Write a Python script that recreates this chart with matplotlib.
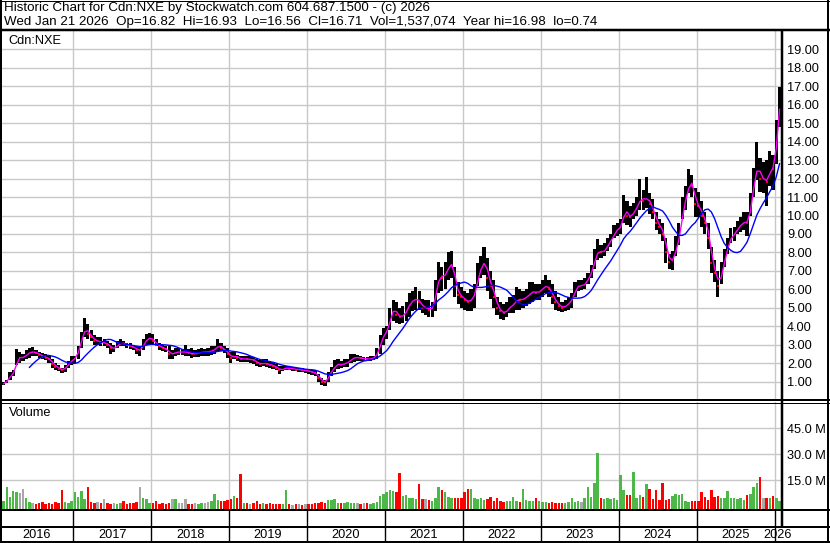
import numpy as np
import pandas as pd
import matplotlib
matplotlib.use("Agg")
import matplotlib.pyplot as plt
from matplotlib.lines import Line2D
from matplotlib.ticker import FormatStrFormatter, FuncFormatter

plt.rcParams["font.family"] = ["Liberation Sans", "DejaVu Sans"]

# =====================================
# Data: half-month periods, Jan-2016 (2nd half) .. Jan-2026 (2nd half)
# =====================================
highs = [
    # 2016
    0.85, 1.0, 1.1, 1.5, 1.6, 2.75, 2.6, 2.5, 2.7, 2.8, 2.85, 2.7, 2.6, 2.55, 2.5, 2.4, 2.2, 2.0, 1.9, 1.75, 1.9, 2.1, 2.4,
    # 2017
    2.4, 2.9, 3.7, 4.45, 4.1, 3.8, 3.5, 3.4, 3.4, 3.3, 3.2, 3.1, 3.0, 3.2, 3.3, 3.2, 3.1, 3.1, 3.0, 2.95, 2.9, 3.3, 3.6, 3.65,
    # 2018
    3.6, 3.3, 3.1, 3.0, 2.95, 2.9, 2.7, 2.8, 2.8, 2.75, 3.0, 2.75, 2.8, 2.7, 2.75, 2.8, 2.75, 2.8, 2.9, 2.95, 3.3, 3.1, 2.95, 2.8,
    # 2019
    2.6, 2.6, 2.45, 2.4, 2.4, 2.4, 2.4, 2.35, 2.2, 2.15, 2.2, 2.2, 2.1, 2.05, 1.95, 1.85, 1.85, 1.85, 1.85, 1.8, 1.8, 1.75, 1.75, 1.7,
    # 2020
    1.7, 1.65, 1.6, 1.4, 1.2, 1.1, 1.5, 1.8, 2.15, 2.2, 2.1, 2.2, 2.2, 2.5, 2.5, 2.45, 2.4, 2.35, 2.35, 2.4, 2.4, 2.8, 3.5, 3.9,
    # 2021
    4.0, 5.0, 5.4, 5.3, 5.0, 5.1, 5.3, 5.8, 5.9, 6.1, 5.9, 5.5, 5.4, 5.4, 5.3, 6.5, 7.5, 7.2, 7.5, 8.0, 8.1, 7.2, 6.4, 6.1,
    # 2022
    5.9, 5.8, 6.0, 6.3, 7.4, 7.8, 8.3, 7.7, 7.0, 6.5, 5.6, 5.3, 5.2, 5.3, 5.6, 5.7, 6.1, 6.0, 5.9, 6.0, 6.4, 6.4, 6.3, 6.3,
    # 2023
    6.5, 6.8, 6.5, 6.3, 5.9, 5.6, 5.3, 5.4, 5.6, 5.8, 6.4, 6.5, 6.5, 6.6, 6.9, 7.3, 8.2, 8.7, 8.4, 8.5, 8.8, 9.0, 9.5, 9.6,
    # 2024
    9.8, 11.1, 10.8, 10.5, 10.7, 11.0, 12.0, 11.4, 12.1, 11.2, 10.9, 10.2, 9.8, 9.6, 8.8, 7.9, 8.1, 8.9, 9.6, 11.0, 11.6, 12.5, 12.2, 11.5,
    # 2025
    11.3, 10.8, 10.2, 9.6, 8.3, 7.6, 7.0, 7.5, 8.2, 8.8, 9.3, 9.4, 9.7, 9.9, 10.2, 10.2, 11.2, 12.6, 14.0, 13.1, 12.9, 13.0, 13.5, 13.3,
    # 2026
    15.2, 16.98,
]
lows = [
    0.72, 0.8, 0.9, 1.1, 1.3, 1.9, 2.0, 2.1, 2.2, 2.3, 2.4, 2.4, 2.3, 2.2, 2.15, 2.0, 1.75, 1.65, 1.55, 1.45, 1.5, 1.75, 1.9,
    2.0, 2.2, 2.8, 3.4, 3.3, 3.2, 3.0, 3.0, 2.9, 2.9, 2.8, 2.5, 2.6, 2.8, 2.9, 2.9, 2.8, 2.75, 2.7, 2.5, 2.4, 2.7, 3.0, 3.0,
    3.0, 2.9, 2.7, 2.65, 2.6, 2.2, 2.2, 2.4, 2.45, 2.45, 2.4, 2.4, 2.3, 2.35, 2.35, 2.4, 2.4, 2.4, 2.45, 2.5, 2.6, 2.65, 2.55, 2.3,
    2.0, 2.2, 2.1, 2.05, 2.05, 2.05, 2.0, 1.95, 1.85, 1.8, 1.85, 1.8, 1.75, 1.7, 1.6, 1.4, 1.55, 1.6, 1.6, 1.55, 1.55, 1.5, 1.5, 1.45,
    1.4, 1.35, 1.3, 1.0, 0.8, 0.74, 1.0, 1.3, 1.5, 1.7, 1.75, 1.8, 1.8, 2.0, 2.05, 2.1, 2.1, 2.1, 2.1, 2.1, 2.15, 2.2, 2.5, 3.0,
    3.3, 3.8, 4.3, 4.2, 4.1, 4.2, 4.3, 4.5, 4.8, 4.9, 4.9, 4.7, 4.6, 4.5, 4.5, 4.8, 5.8, 5.9, 6.0, 6.5, 6.6, 5.6, 5.2, 5.0,
    4.9, 4.8, 4.8, 5.0, 6.2, 6.6, 6.8, 5.9, 5.5, 5.0, 4.6, 4.4, 4.35, 4.5, 4.7, 4.7, 4.9, 4.9, 5.0, 5.1, 5.2, 5.3, 5.4, 5.4,
    5.6, 5.8, 5.6, 5.2, 4.9, 4.8, 4.75, 4.8, 4.9, 5.0, 5.6, 5.9, 5.95, 6.0, 6.3, 6.6, 7.1, 7.6, 7.7, 7.8, 8.1, 8.3, 8.8, 8.9,
    9.0, 9.6, 9.5, 9.4, 9.8, 10.0, 10.3, 10.3, 10.4, 10.1, 9.8, 9.2, 9.0, 8.6, 7.4, 7.1, 7.05, 7.8, 8.4, 9.8, 10.3, 11.2, 11.0, 9.9,
    9.9, 9.4, 9.0, 8.2, 6.9, 6.4, 5.6, 6.3, 7.2, 7.9, 8.5, 8.6, 9.0, 9.1, 9.2, 8.9, 10.0, 11.0, 11.9, 11.3, 11.2, 10.5, 11.6, 11.4,
    12.8, 14.8,
]
closes = [
    0.8, 0.95, 1.05, 1.4, 1.5, 2.3, 2.3, 2.3, 2.5, 2.6, 2.6, 2.55, 2.45, 2.35, 2.3, 2.2, 1.95, 1.8, 1.7, 1.6, 1.8, 2.0, 2.2,
    2.3, 2.8, 3.5, 3.9, 3.6, 3.4, 3.2, 3.2, 3.1, 3.1, 3.0, 2.8, 2.8, 3.0, 3.1, 3.05, 3.0, 2.9, 2.85, 2.7, 2.7, 3.1, 3.3, 3.4,
    3.2, 3.0, 2.9, 2.8, 2.75, 2.5, 2.5, 2.6, 2.6, 2.6, 2.6, 2.55, 2.5, 2.5, 2.55, 2.6, 2.6, 2.6, 2.7, 2.75, 3.0, 2.8, 2.7, 2.5,
    2.3, 2.4, 2.3, 2.2, 2.25, 2.2, 2.2, 2.15, 2.0, 1.95, 2.0, 1.95, 1.9, 1.85, 1.75, 1.6, 1.7, 1.75, 1.7, 1.7, 1.65, 1.65, 1.6, 1.6,
    1.55, 1.5, 1.45, 1.2, 1.0, 0.95, 1.4, 1.6, 1.9, 1.95, 1.9, 2.0, 2.05, 2.25, 2.3, 2.3, 2.25, 2.25, 2.2, 2.25, 2.3, 2.6, 3.2, 3.6,
    3.8, 4.6, 5.0, 4.6, 4.5, 4.6, 4.9, 5.3, 5.4, 5.5, 5.3, 5.0, 5.0, 4.9, 5.0, 6.0, 6.8, 6.6, 6.9, 7.3, 7.4, 6.2, 5.7, 5.6,
    5.4, 5.3, 5.5, 5.8, 6.9, 7.2, 7.6, 6.6, 6.2, 5.6, 5.0, 4.8, 4.7, 4.9, 5.1, 5.2, 5.5, 5.4, 5.5, 5.6, 5.8, 5.9, 5.8, 5.9,
    6.1, 6.2, 6.0, 5.6, 5.3, 5.1, 5.0, 5.1, 5.3, 5.5, 6.1, 6.2, 6.2, 6.3, 6.7, 7.0, 7.8, 8.1, 8.0, 8.1, 8.5, 8.7, 9.1, 9.3,
    9.4, 10.4, 10.0, 9.9, 10.3, 10.5, 11.0, 10.8, 11.0, 10.6, 10.2, 9.6, 9.4, 9.0, 8.0, 7.5, 7.6, 8.4, 9.0, 10.5, 11.0, 11.9, 11.6, 10.6,
    10.5, 10.0, 9.6, 8.8, 7.4, 6.9, 6.2, 7.0, 7.8, 8.5, 8.9, 9.0, 9.4, 9.5, 9.7, 9.6, 10.8, 12.0, 12.8, 12.0, 12.0, 11.8, 12.7, 12.5,
    14.8, 16.71,
]
# volume in millions
volume = [
    2.5, 3.0, 11.0, 5.5, 9.0, 8.0, 7.5, 10.0, 5.0, 2.5, 2.0, 1.5, 2.0, 2.5, 1.5, 2.0, 1.5, 2.5, 2.0, 9.4, 2.7, 2.0, 3.0,
    8.4, 5.5, 9.0, 4.0, 11.0, 2.5, 2.0, 2.5, 2.0, 4.0, 2.0, 1.5, 2.0, 1.5, 2.0, 3.0, 1.5, 2.0, 2.0, 2.5, 11.0, 5.0, 4.0, 2.0,
    2.0, 3.0, 1.5, 2.0, 1.5, 2.0, 4.0, 4.0, 2.0, 2.0, 4.0, 1.5, 1.5, 2.0, 1.5, 2.0, 2.0, 2.5, 3.0, 7.0, 3.5, 3.0, 3.0, 3.5,
    4.0, 6.0, 5.0, 18.6, 2.0, 2.0, 1.5, 2.0, 3.0, 1.5, 2.0, 1.5, 2.0, 1.5, 1.5, 1.5, 1.5, 9.4, 1.5, 1.0, 1.5, 1.5, 1.0, 1.5,
    1.5, 1.5, 2.0, 2.0, 2.5, 2.0, 3.6, 3.6, 4.0, 2.0, 2.0, 2.0, 2.5, 2.0, 2.0, 2.0, 1.5, 2.0, 2.0, 1.5, 2.0, 2.5, 6.0, 7.0,
    8.0, 9.4, 9.0, 8.0, 19.4, 6.0, 6.5, 5.0, 5.0, 4.0, 12.9, 4.0, 4.0, 3.5, 3.0, 5.0, 11.0, 9.4, 8.4, 5.5, 5.0, 5.0, 4.5, 5.0,
    8.4, 9.8, 9.8, 5.0, 4.0, 4.5, 3.5, 4.0, 5.5, 3.0, 5.0, 3.0, 2.5, 3.0, 3.0, 5.5, 3.0, 2.5, 9.8, 3.5, 3.0, 3.0, 4.5, 3.0,
    2.5, 2.5, 2.0, 2.5, 2.0, 2.0, 2.0, 2.0, 2.5, 5.0, 2.5, 3.0, 2.5, 4.5, 11.0, 5.5, 13.2, 31.0, 4.5, 4.0, 5.0, 4.0, 4.5, 3.5,
    17.8, 9.4, 6.5, 6.5, 19.8, 5.0, 6.5, 5.5, 12.7, 9.8, 4.0, 9.4, 3.5, 13.4, 3.5, 4.0, 6.0, 7.0, 6.5, 7.0, 3.0, 2.5, 3.0, 3.0,
    3.0, 8.4, 5.5, 3.5, 9.4, 5.5, 6.0, 4.5, 4.5, 9.0, 4.5, 5.0, 4.0, 4.5, 3.6, 6.5, 7.0, 11.0, 13.6, 16.7, 5.0, 4.5, 5.0, 6.0,
    5.0, 3.0,
]

title_1 = "Historic Chart for Cdn:NXE by Stockwatch.com 604.687.1500 - (c) 2026"
title_2 = ("Wed Jan 21 2026  Op=16.82  Hi=16.93  Lo=16.56  Cl=16.71  "
           "Vol=1,537,074  Year hi=16.98  lo=0.74")
years = list(range(2016, 2027))

# =====================================
# Derived
# =====================================
hi = np.array(highs)
lo = np.array(lows)
cl = np.array(closes)
vol = np.array(volume)
t = 2016 + (np.arange(1, len(cl) + 1) + 0.5) / 24     # half-month centres
ma_fast = pd.Series(cl).rolling(2).mean()
ma_slow = pd.Series(cl).rolling(10).mean()
chg = np.diff(cl, prepend=cl[0] - 0.01)
vcol = np.where(chg > 0, "#4cb848", np.where(chg < 0, "#ff0000", "#a8a8a8"))

# =====================================
# Layout helpers (pixel based)
# =====================================
W, H = 830, 543
fig = plt.figure(figsize=(W / 100, H / 100), dpi=100)
fig.patch.set_facecolor("white")


def fx(px):
    return px / W


def fy(py):
    return 1 - py / H


def year_at(px):
    return 2017 + (px - 73.3) / 77.93


def line(x0, y0, x1, y1, lw=1.0):
    fig.add_artist(Line2D([fx(x0), fx(x1)], [fy(y0), fy(y1)],
                          transform=fig.transFigure, color="black",
                          lw=lw * 0.72, solid_capstyle="butt"))


GRID = "#c8c8c8"
FS = 9.2
FS_TITLE = 9.6

# =====================================
# Price panel
# =====================================
ax_p = fig.add_axes([0, fy(400), fx(781), (400 - 31) / H])
ax_p.set_xlim(year_at(0), year_at(781))
ax_p.set_ylim(0, 20)
ax_p.set_xticks(years[1:])
ax_p.set_yticks(range(1, 20))
ax_p.grid(True, color=GRID, lw=1.0)
ax_p.set_axisbelow(True)
ax_p.tick_params(axis="x", length=0, labelbottom=False)
ax_p.tick_params(axis="y", length=0, left=False, labelleft=False,
                 labelright=True, pad=4.4, labelsize=FS)
ax_p.yaxis.set_major_formatter(FormatStrFormatter("%.2f"))
for sp in ax_p.spines.values():
    sp.set_visible(False)

ax_p.bar(t, hi - lo, bottom=lo, width=0.97 / 24, color="black", lw=0, zorder=2)
down = chg < 0
ax_p.plot(t[down], cl[down], ls="none", marker="s", ms=1.8, mew=0,
          color="#ff0000", zorder=3)
ax_p.plot(t, ma_fast, color="#ff00ff", lw=1.0, zorder=4)
ax_p.plot(t, ma_slow, color="#0000ff", lw=1.0, zorder=4)
fig.text(fx(8), fy(41), "Cdn:NXE", fontsize=FS, va="center", ha="left")

# =====================================
# Volume panel
# =====================================
v_floor = -1.56
ax_v = fig.add_axes([0, fy(509), fx(781), (509 - 402) / H])
ax_v.set_xlim(year_at(0), year_at(781))
ax_v.set_ylim(v_floor, 60.17)
ax_v.set_xticks(years[1:])
ax_v.set_yticks([15, 30, 45])
ax_v.grid(True, color=GRID, lw=1.0)
ax_v.set_axisbelow(True)
ax_v.tick_params(axis="x", length=0, labelbottom=False)
ax_v.tick_params(axis="y", length=0, left=False, labelleft=False,
                 labelright=True, pad=4.4, labelsize=FS)
ax_v.yaxis.set_major_formatter(FuncFormatter(lambda v, _: f"{v:.1f} M"))
for sp in ax_v.spines.values():
    sp.set_visible(False)
ax_v.bar(t, vol - v_floor, bottom=v_floor, width=0.75 / 24, color=vcol, lw=0)
fig.text(fx(9), fy(413), "Volume", fontsize=FS, va="center", ha="left")

# =====================================
# Year strip
# =====================================
ax_s = fig.add_axes([0, fy(542), fx(828), (542 - 510) / H])
ax_s.set_xlim(year_at(0), year_at(828))
ax_s.set_ylim(0, 1)
ax_s.axis("off")
ax_s.vlines(years[1:], 0, 1, color="black", lw=1.0)
x_lo, x_hi = year_at(0), year_at(781)
for y in years:
    c = (max(y, x_lo) + min(y + 1, x_hi)) / 2
    ax_s.text(c, 0.23, str(y), ha="center", va="center", fontsize=FS)

# =====================================
# Frame lines
# =====================================
line(0, 0.5, 830, 0.5, 1)          # top
line(1, 0, 1, 543, 2)              # left
line(828, 0, 828, 543, 2)          # right
line(0, 541.5, 830, 541.5, 2)      # bottom
line(0, 30, 830, 30, 2.5)          # under title
line(782, 30, 782, 527, 2.5)       # price axis divider
line(0, 399.8, 830, 399.8, 2)      # price / volume double line
line(0, 402.5, 830, 402.5, 1)
line(0, 510, 830, 510, 2)          # strip
line(0, 527, 830, 527, 2)

fig.text(fx(4), fy(8.5), title_1, fontsize=FS_TITLE, va="center", ha="left")
fig.text(fx(4), fy(22), title_2, fontsize=FS_TITLE, va="center", ha="left")

fig.savefig("out.png", dpi=100)
